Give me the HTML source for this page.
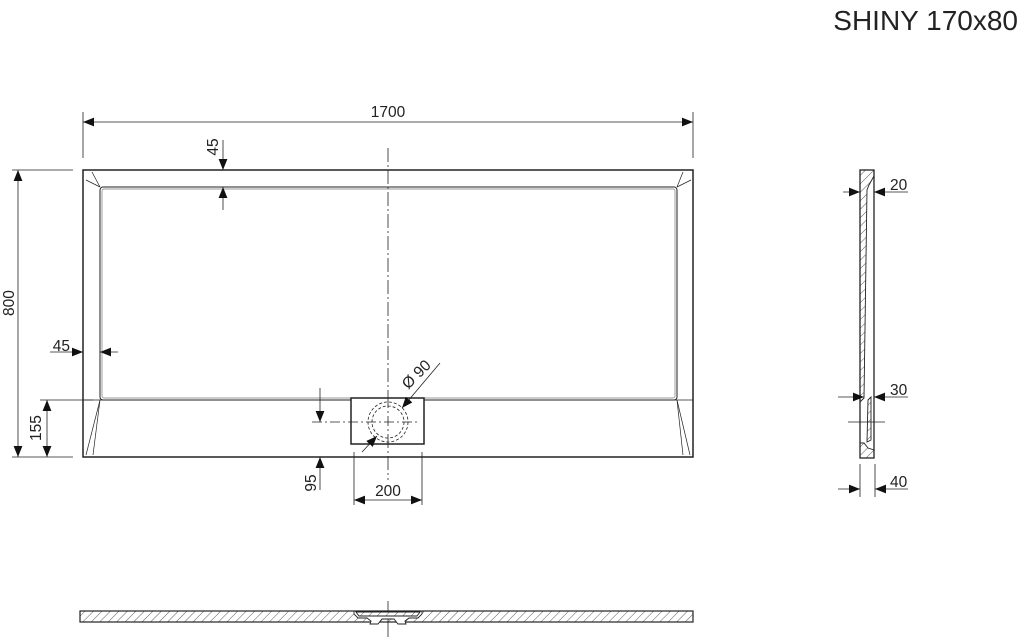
<!DOCTYPE html>
<html><head><style>
html,body{margin:0;padding:0;background:#fff;}
svg{display:block;}
text{font-family:"Liberation Sans",Arial,sans-serif;fill:#222;}
</style></head><body>
<svg width="1028" height="641" viewBox="0 0 1028 641" xmlns="http://www.w3.org/2000/svg">
<defs>
<pattern id="h" width="6" height="6" patternUnits="userSpaceOnUse" patternTransform="rotate(45)">
<line x1="0" y1="0" x2="0" y2="6" stroke="#333" stroke-width="0.8"/>
</pattern>
<marker id="a" viewBox="0 0 10 10" refX="10" refY="5" markerWidth="11" markerHeight="11" markerUnits="userSpaceOnUse" orient="auto-start-reverse">
<path d="M0,1 L10,5 L0,9z" fill="#111"/>
</marker>
</defs>
<text x="1018" y="30" font-size="28" text-anchor="end">SHINY 170x80</text>

<g stroke="#222" fill="none">
<line x1="83" y1="112" x2="83" y2="158" stroke-width="0.8"/>
<line x1="693" y1="112" x2="693" y2="158" stroke-width="0.8"/>
<line x1="83" y1="122" x2="693" y2="122" stroke-width="0.8" marker-start="url(#a)" marker-end="url(#a)"/>
<rect x="83" y="170" width="610" height="287" stroke-width="1.5"/>
<rect x="100" y="187" width="577" height="213" rx="3" stroke-width="1"/>
<rect x="102" y="189" width="573" height="209" rx="2" stroke-width="0.7" stroke="#777"/>
<line x1="92" y1="172" x2="100" y2="187" stroke-width="0.7"/>
<line x1="86" y1="180" x2="100" y2="187" stroke-width="0.7"/>
<line x1="683" y1="172" x2="677" y2="187" stroke-width="0.7"/>
<line x1="691" y1="180" x2="677" y2="187" stroke-width="0.7"/>
<line x1="100" y1="400" x2="86" y2="455" stroke-width="0.7"/>
<line x1="100" y1="400" x2="93" y2="455" stroke-width="0.7"/>
<line x1="677" y1="400" x2="690" y2="455" stroke-width="0.7"/>
<line x1="677" y1="400" x2="683" y2="455" stroke-width="0.7"/>
<line x1="83" y1="400" x2="693" y2="400" stroke-width="0.7"/>
<line x1="388" y1="148" x2="388" y2="480" stroke-width="0.8" stroke-dasharray="14,3,2,3"/>
<rect x="351" y="398" width="73" height="46" stroke-width="1.5" fill="#fff"/>
<line x1="388" y1="398" x2="388" y2="444" stroke-width="0.8" stroke-dasharray="10,3,2,3"/>
<circle cx="388" cy="422" r="20" stroke-width="0.8" stroke-dasharray="3,2"/>
<circle cx="388" cy="422" r="16" stroke-width="0.8" stroke-dasharray="3,2"/>
<line x1="312" y1="422" x2="418" y2="422" stroke-width="0.8" stroke-dasharray="10,3,2,3"/>
<line x1="440" y1="363" x2="402" y2="408" stroke-width="0.8" marker-end="url(#a)"/>
<line x1="362" y1="452" x2="377" y2="436" stroke-width="0.8" marker-end="url(#a)"/>
<line x1="223" y1="140" x2="223" y2="170" stroke-width="0.8" marker-end="url(#a)"/>
<line x1="223" y1="210" x2="223" y2="187" stroke-width="0.8" marker-end="url(#a)"/>
<line x1="50" y1="352" x2="83" y2="352" stroke-width="0.8" marker-end="url(#a)"/>
<line x1="118" y1="352" x2="100" y2="352" stroke-width="0.8" marker-end="url(#a)"/>
<line x1="12" y1="170" x2="73" y2="170" stroke-width="0.8"/>
<line x1="12" y1="457" x2="73" y2="457" stroke-width="0.8"/>
<line x1="18" y1="170" x2="18" y2="457" stroke-width="0.8" marker-start="url(#a)" marker-end="url(#a)"/>
<line x1="40" y1="400" x2="93" y2="400" stroke-width="0.8"/>
<line x1="47" y1="400" x2="47" y2="457" stroke-width="0.8" marker-start="url(#a)" marker-end="url(#a)"/>
<line x1="320" y1="388" x2="320" y2="422" stroke-width="0.8" marker-end="url(#a)"/>
<line x1="320" y1="490" x2="320" y2="457" stroke-width="0.8" marker-end="url(#a)"/>
<line x1="354" y1="452" x2="354" y2="505" stroke-width="0.8"/>
<line x1="422" y1="452" x2="422" y2="505" stroke-width="0.8"/>
<line x1="354" y1="500" x2="422" y2="500" stroke-width="0.8" marker-start="url(#a)" marker-end="url(#a)"/>

<rect x="860" y="170" width="14" height="288" stroke-width="1.3"/>
<path d="M860,170 L874,170 L874,176 L869,185 L867,190 L864,398 L860,402 Z" fill="url(#h)" stroke-width="0.9"/>
<path d="M868,400 L871,397 L871,440 L867,442 Z" fill="url(#h)" stroke-width="0.9"/>
<path d="M860,443 L864,443 L868,448 L874,450 L874,458 L860,458 Z" fill="url(#h)" stroke-width="0.9"/>
<line x1="843" y1="192" x2="860" y2="192" stroke-width="0.8" marker-end="url(#a)"/>
<line x1="908" y1="192" x2="874" y2="192" stroke-width="0.8" marker-end="url(#a)"/>
<line x1="838" y1="397" x2="864" y2="397" stroke-width="0.8" marker-end="url(#a)"/>
<line x1="908" y1="397" x2="874" y2="397" stroke-width="0.8" marker-end="url(#a)"/>
<line x1="848" y1="422" x2="885" y2="422" stroke-width="0.8"/>
<line x1="860" y1="464" x2="860" y2="497" stroke-width="0.8"/>
<line x1="875" y1="464" x2="875" y2="497" stroke-width="0.8"/>
<line x1="838" y1="489" x2="860" y2="489" stroke-width="0.8" marker-end="url(#a)"/>
<line x1="908" y1="489" x2="875" y2="489" stroke-width="0.8" marker-end="url(#a)"/>

<rect x="80" y="611" width="613" height="11" fill="url(#h)" stroke-width="1.2"/>
<line x1="388" y1="601" x2="388" y2="637" stroke-width="0.8"/>
</g>
<g stroke="#222" stroke-width="0.9">
<path d="M354,611 L422,611 L422,614 L418,618 L409,618 L405,621 L406,624 L398,624 L394,619 L382,619 L378,624 L370,624 L371,621 L367,618 L358,618 L354,614 Z" fill="#fff"/>
<path d="M356,612 L420,612 L417,616 L359,616 Z" fill="url(#h)"/>
</g>

<g font-size="15.5">
<text x="388" y="117" text-anchor="middle">1700</text>
<text x="70" y="351" text-anchor="end">45</text>
<text x="218" y="147" transform="rotate(-90 218 147)" text-anchor="middle">45</text>
<text x="14" y="303" transform="rotate(-90 14 303)" text-anchor="middle">800</text>
<text x="41" y="428" transform="rotate(-90 41 428)" text-anchor="middle">155</text>
<text x="316" y="483" transform="rotate(-90 316 483)" text-anchor="middle">95</text>
<text x="388" y="496" text-anchor="middle">200</text>
<text x="420" y="378" transform="rotate(-45 420 378)" text-anchor="middle">Ø 90</text>
<text x="890" y="190">20</text>
<text x="890" y="395">30</text>
<text x="890" y="487">40</text>
</g>
</svg>
</body></html>
